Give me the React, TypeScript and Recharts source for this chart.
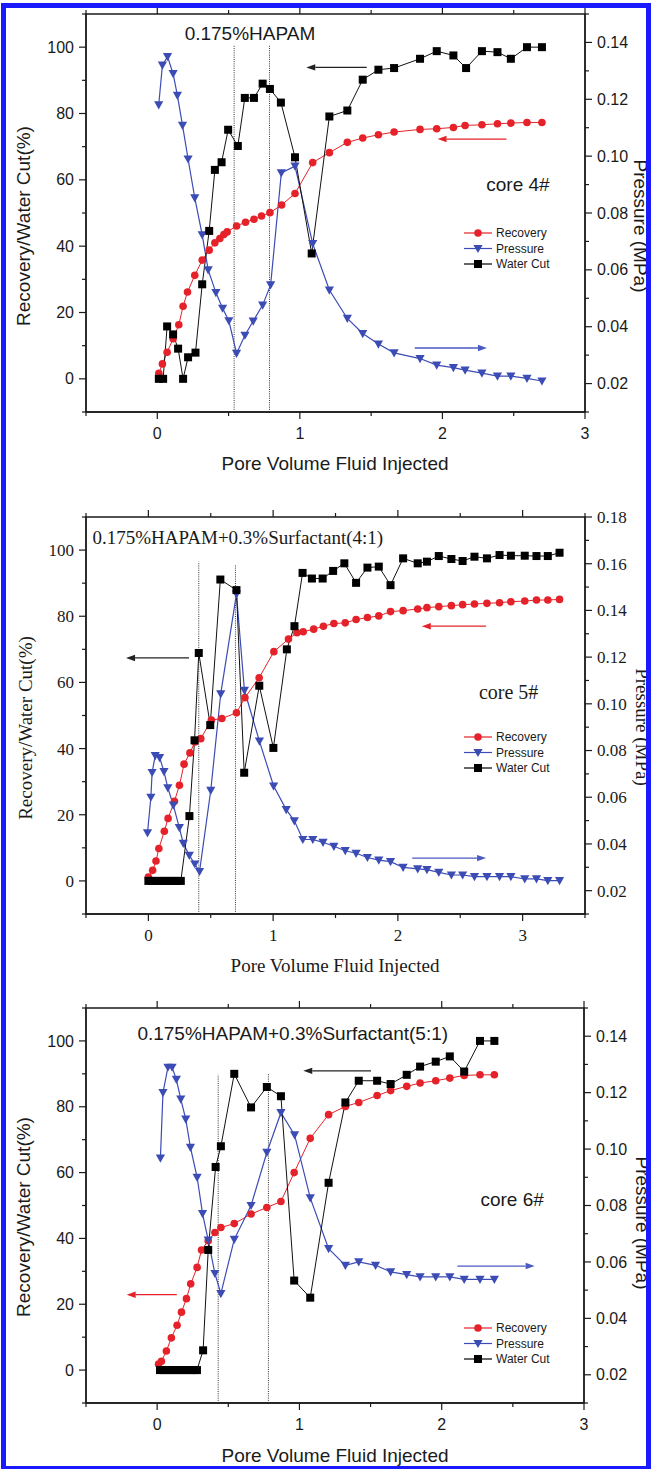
import React from 'react';
import {
  LineChart,
  Line,
  XAxis,
  YAxis,
  ReferenceLine,
  ReferenceDot,
  ReferenceArea,
  Legend,
} from 'recharts';

const SANS = '"Liberation Sans", Arial, Helvetica, sans-serif';
const SERIF = '"Liberation Serif", "Times New Roman", Times, serif';
const RED = '#e52229';
const BLUE = '#3c4cb5';
const INK = '#1a1a1a';

// ---------- shared tick values ----------
const leftTicks = [-10, 0, 10, 20, 30, 40, 50, 60, 70, 80, 90, 100, 110];
const xTicks3 = [-0.5, 0, 0.5, 1, 1.5, 2, 2.5, 3];
const xTicks35 = [-0.5, 0, 0.5, 1, 1.5, 2, 2.5, 3, 3.5];
const pTicks15 = [0.01, 0.02, 0.03, 0.04, 0.05, 0.06, 0.07, 0.08, 0.09, 0.1, 0.11, 0.12, 0.13, 0.14, 0.15];
const pTicks18 = [0.01, 0.02, 0.03, 0.04, 0.05, 0.06, 0.07, 0.08, 0.09, 0.1, 0.11, 0.12, 0.13, 0.14, 0.15, 0.16, 0.17, 0.18];

// ---------- core 4# ----------
const core4RecoveryX = [0.011, 0.036, 0.069, 0.111, 0.151, 0.181, 0.212, 0.263, 0.315, 0.364, 0.404, 0.439, 0.467, 0.49, 0.556, 0.619, 0.678, 0.731, 0.79, 0.872, 0.966, 1.09, 1.207, 1.333, 1.441, 1.551, 1.661, 1.843, 1.96, 2.077, 2.159, 2.277, 2.386, 2.48, 2.593, 2.698];
const core4RecoveryY = [1.7, 4.5, 8, 12.1, 16.3, 21.9, 26.2, 31.2, 35.8, 38.8, 41, 42.3, 43.5, 44.3, 46.1, 47.2, 48.1, 49.1, 50.1, 52.4, 55.9, 65.2, 68.2, 71.3, 72.6, 73.6, 74.4, 75.2, 75.4, 75.8, 76.4, 76.6, 76.9, 77.1, 77.3, 77.3];
const core4PressureX = [0.01, 0.036, 0.072, 0.111, 0.141, 0.177, 0.216, 0.263, 0.315, 0.357, 0.411, 0.458, 0.502, 0.556, 0.615, 0.673, 0.739, 0.795, 0.87, 0.966, 1.09, 1.207, 1.333, 1.441, 1.551, 1.661, 1.843, 1.96, 2.077, 2.159, 2.277, 2.386, 2.48, 2.593, 2.698];
const core4PressureY = [0.118, 0.132, 0.135, 0.129, 0.1214, 0.1108, 0.099, 0.0853, 0.0723, 0.06, 0.052, 0.0465, 0.0421, 0.0306, 0.037, 0.042, 0.0476, 0.0547, 0.0941, 0.0965, 0.0692, 0.0529, 0.0429, 0.0376, 0.0339, 0.0308, 0.0288, 0.0265, 0.0256, 0.0247, 0.0237, 0.0226, 0.0226, 0.0218, 0.0209];
const core4WaterX = [0.011, 0.041, 0.069, 0.111, 0.146, 0.181, 0.216, 0.268, 0.315, 0.364, 0.404, 0.451, 0.497, 0.565, 0.614, 0.678, 0.739, 0.79, 0.867, 0.966, 1.083, 1.207, 1.333, 1.441, 1.551, 1.661, 1.843, 1.96, 2.077, 2.166, 2.277, 2.386, 2.48, 2.593, 2.698];
const core4WaterY = [0, 0, 15.8, 13.4, 9.1, 0, 6.5, 7.9, 28.5, 44.6, 63, 65.3, 75.1, 70.2, 84.7, 84.7, 89, 87.4, 83.3, 66.8, 37.8, 79.1, 80.9, 90.2, 93.2, 93.7, 96.5, 98.8, 97.5, 93.7, 98.8, 98.5, 96.5, 100, 100];

// ---------- core 5# ----------
const core5RecoveryX = [0, 0.034, 0.061, 0.084, 0.128, 0.158, 0.209, 0.249, 0.286, 0.333, 0.373, 0.42, 0.505, 0.589, 0.706, 0.774, 0.888, 1.006, 1.123, 1.191, 1.241, 1.325, 1.403, 1.487, 1.578, 1.665, 1.756, 1.847, 1.941, 2.042, 2.159, 2.233, 2.328, 2.429, 2.519, 2.614, 2.714, 2.815, 2.906, 3.017, 3.111, 3.202, 3.296];
const core5RecoveryY = [1.2, 3.2, 6, 9.8, 15, 18.9, 24.1, 28.9, 35.3, 38.7, 42, 43, 48.6, 49.1, 50.8, 55.4, 61.4, 69.3, 73.1, 75, 75.3, 76.1, 77, 77.8, 78, 79, 79.6, 80.1, 81.4, 81.7, 82.2, 82.6, 82.9, 83.2, 83.5, 83.7, 83.9, 84.1, 84.4, 84.6, 84.9, 84.9, 85.1];
const core5PressureX = [-0.007, 0.02, 0.03, 0.055, 0.09, 0.125, 0.156, 0.2, 0.248, 0.28, 0.328, 0.372, 0.41, 0.5, 0.58, 0.706, 0.77, 0.89, 1.004, 1.105, 1.17, 1.238, 1.318, 1.4, 1.487, 1.578, 1.665, 1.756, 1.847, 1.941, 2.042, 2.159, 2.233, 2.328, 2.429, 2.519, 2.614, 2.714, 2.815, 2.906, 3.017, 3.111, 3.202, 3.296];
const core5PressureY = [0.0447, 0.06, 0.0706, 0.0778, 0.077, 0.071, 0.064, 0.0566, 0.047, 0.0402, 0.0351, 0.0314, 0.0282, 0.0629, 0.1043, 0.147, 0.1058, 0.084, 0.0648, 0.0547, 0.0499, 0.0419, 0.0419, 0.0407, 0.039, 0.0371, 0.036, 0.0342, 0.0331, 0.0324, 0.03, 0.0293, 0.029, 0.0278, 0.0267, 0.0267, 0.026, 0.026, 0.026, 0.026, 0.025, 0.025, 0.0243, 0.0243];
const core5WaterX = [0, 0.026, 0.052, 0.078, 0.104, 0.13, 0.156, 0.182, 0.208, 0.234, 0.26, 0.329, 0.37, 0.404, 0.496, 0.577, 0.706, 0.768, 0.889, 1.002, 1.11, 1.171, 1.236, 1.311, 1.397, 1.481, 1.571, 1.665, 1.756, 1.847, 1.941, 2.042, 2.159, 2.233, 2.328, 2.429, 2.519, 2.614, 2.714, 2.815, 2.906, 3.017, 3.111, 3.202, 3.296];
const core5WaterY = [0, 0, 0, 0, 0, 0, 0, 0, 0, 0, 0, 19.6, 42.5, 68.9, 47.1, 91.1, 87.9, 32.7, 59, 40.2, 70, 77, 93.1, 91.4, 91.4, 93.7, 96, 90.1, 94.7, 95, 89.4, 97.5, 96, 96.5, 98.2, 97.3, 96.7, 98, 97.5, 98.5, 98.3, 98.3, 98.2, 98.2, 99.2];

// ---------- core 6# ----------
const core6RecoveryX = [0.01, 0.03, 0.065, 0.1, 0.14, 0.171, 0.206, 0.236, 0.281, 0.312, 0.359, 0.406, 0.448, 0.542, 0.66, 0.771, 0.87, 0.963, 1.076, 1.205, 1.323, 1.417, 1.546, 1.641, 1.754, 1.848, 1.958, 2.057, 2.158, 2.269, 2.37];
const core6RecoveryY = [1.8, 2.7, 5.8, 9.8, 13.6, 17.6, 21.7, 26.2, 31.2, 36.5, 39.3, 41.8, 43.3, 44.5, 47.4, 49.4, 51.2, 60, 70.4, 77.6, 80.1, 81.3, 83.4, 84.9, 86.2, 87.2, 87.9, 88.7, 89.5, 89.7, 89.7];
const core6PressureX = [0.023, 0.041, 0.076, 0.105, 0.135, 0.166, 0.201, 0.234, 0.281, 0.319, 0.359, 0.406, 0.448, 0.542, 0.66, 0.771, 0.87, 0.966, 1.076, 1.205, 1.323, 1.417, 1.535, 1.641, 1.754, 1.848, 1.958, 2.057, 2.158, 2.269, 2.37];
const core6PressureY = [0.0968, 0.12, 0.129, 0.129, 0.1247, 0.1177, 0.1106, 0.1006, 0.09, 0.0771, 0.0677, 0.0559, 0.0488, 0.068, 0.08, 0.0988, 0.1129, 0.105, 0.0827, 0.0647, 0.0588, 0.06, 0.0588, 0.0565, 0.0555, 0.0547, 0.0547, 0.0547, 0.0538, 0.0538, 0.0538];
const core6WaterX = [0.02, 0.047, 0.074, 0.101, 0.128, 0.155, 0.182, 0.209, 0.236, 0.263, 0.28, 0.323, 0.359, 0.411, 0.448, 0.542, 0.66, 0.771, 0.87, 0.963, 1.076, 1.205, 1.323, 1.417, 1.546, 1.641, 1.754, 1.848, 1.958, 2.057, 2.158, 2.269, 2.37];
const core6WaterY = [0, 0, 0, 0, 0, 0, 0, 0, 0, 0, 0, 6, 36.5, 61.7, 68, 90, 79.8, 86, 83.2, 27.2, 22, 56.9, 81.3, 87.9, 87.9, 86.9, 89.7, 92.2, 93.7, 95.3, 90.7, 100, 100];

const zip = (xs: number[], ys: number[]) => xs.map((x, i) => ({ x, y: ys[i] }));

// ---------- markers ----------
const circleDot = (p: any) =>
  p.cx == null ? <g key={`c${p.index}`} /> : <circle key={`c${p.index}`} cx={p.cx} cy={p.cy} r={3.8} fill={RED} />;
const triDot = (p: any) =>
  p.cx == null ? (
    <g key={`t${p.index}`} />
  ) : (
    <polygon
      key={`t${p.index}`}
      points={`${p.cx - 4.6},${p.cy - 3.6} ${p.cx + 4.6},${p.cy - 3.6} ${p.cx},${p.cy + 4.6}`}
      fill={BLUE}
    />
  );
const sqDot = (p: any) =>
  p.cx == null ? <g key={`s${p.index}`} /> : <rect key={`s${p.index}`} x={p.cx - 4} y={p.cy - 4} width={8} height={8} fill="#000" />;

const MAJOR = 7;
const MINOR = 4;

// ---------- ticks ----------
const mkLeftTick = (font: string, size: number) => (props: any) => {
  const { x, y, payload } = props;
  const v = payload.value;
  const major = Math.round(v) % 20 === 0;
  return (
    <g>
      <line x1={x} x2={x - (major ? MAJOR : MINOR)} y1={y} y2={y} stroke={INK} strokeWidth={1.2} />
      {major && (
        <text x={x - 12} y={y} dy="0.35em" textAnchor="end" fontSize={size} fontFamily={font} fill={INK}>
          {v}
        </text>
      )}
    </g>
  );
};
const mkRightTick = (font: string, size: number) => (props: any) => {
  const { x, y, payload } = props;
  const v = payload.value;
  const major = Math.round(v * 100) % 2 === 0;
  return (
    <g>
      <line x1={x} x2={x + (major ? MAJOR : MINOR)} y1={y} y2={y} stroke={INK} strokeWidth={1.2} />
      {major && (
        <text x={x + 12} y={y} dy="0.35em" textAnchor="start" fontSize={size} fontFamily={font} fill={INK}>
          {v.toFixed(2)}
        </text>
      )}
    </g>
  );
};
const mkBottomTick = (font: string, size: number, plotH: number) => (props: any) => {
  const { x, y, payload } = props;
  const v = payload.value;
  const major = Math.abs(v - Math.round(v)) < 1e-6;
  const len = major ? MAJOR : MINOR;
  return (
    <g>
      <line x1={x} x2={x} y1={y} y2={y + len} stroke={INK} strokeWidth={1.2} />
      <line x1={x} x2={x} y1={y - plotH} y2={y - plotH - len} stroke={INK} strokeWidth={1.2} />
      {major && (
        <text x={x} y={y + 21} dy="0.35em" textAnchor="middle" fontSize={size} fontFamily={font} fill={INK}>
          {v}
        </text>
      )}
    </g>
  );
};

const arrowShape = (color: string) => (p: any) => {
  const { x1, y1, x2, y2 } = p;
  const ang = Math.atan2(y2 - y1, x2 - x1);
  const L = 9;
  const Wd = 3.2;
  const bx = x2 - L * Math.cos(ang);
  const by = y2 - L * Math.sin(ang);
  const px = -Math.sin(ang) * Wd;
  const py = Math.cos(ang) * Wd;
  return (
    <g>
      <line x1={x1} y1={y1} x2={bx} y2={by} stroke={color} strokeWidth={1.3} />
      <polygon points={`${x2},${y2} ${bx + px},${by + py} ${bx - px},${by - py}`} fill={color} />
    </g>
  );
};

const LegendBox = () => {
  const rows = [
    { label: 'Recovery', color: RED, kind: 'c' },
    { label: 'Pressure', color: BLUE, kind: 't' },
    { label: 'Water Cut', color: '#000', kind: 's' },
  ];
  return (
    <svg width={100} height={48} style={{ display: 'block' }}>
      {rows.map((r, i) => {
        const cy = 8 + i * 15.5;
        return (
          <g key={r.label}>
            <line x1={1} x2={29} y1={cy} y2={cy} stroke={r.color} strokeWidth={1.2} />
            {r.kind === 'c' && <circle cx={15} cy={cy} r={3.8} fill={RED} />}
            {r.kind === 't' && (
              <polygon points={`${15 - 4.6},${cy - 3.6} ${15 + 4.6},${cy - 3.6} 15,${cy + 4.6}`} fill={BLUE} />
            )}
            {r.kind === 's' && <rect x={11} y={cy - 4} width={8} height={8} fill="#000" />}
            <text x={33} y={cy} dy="0.35em" fontSize={12} fontFamily={SANS} fill={INK}>
              {r.label}
            </text>
          </g>
        );
      })}
    </svg>
  );
};

type Txt = { x: number; y: number; text: string; size: number };
type Arrow = { x1: number; x2: number; y: number; color: string };
type Cfg = {
  top: number;
  height: number;
  marginTop: number;
  plotH: number;
  xAxisH: number;
  rightW: number;
  xDomain: [number, number];
  xTicks: number[];
  pDomain: [number, number];
  pTicks: number[];
  font: string;
  tickSize: number;
  recovery: { x: number; y: number }[];
  pressure: { x: number; y: number }[];
  water: { x: number; y: number }[];
  vlines: { x: number; top: number }[];
  arrows: Arrow[];
  texts: Txt[];
  legendTop: number;
  leftTitle: [number, number];
  rightTitle: [number, number];
  xTitle: [number, number];
};

const Panel = ({ cfg }: { cfg: Cfg }) => {
  const W = 652;
  const titleProps = { fontSize: 19, fontFamily: cfg.font, fill: INK, textAnchor: 'middle' as const };
  return (
    <div style={{ position: 'absolute', left: 0, top: cfg.top, width: W, height: cfg.height }}>
      <LineChart width={W} height={cfg.height} margin={{ top: cfg.marginTop, right: 0, bottom: 0, left: 0 }}>
        <XAxis
          xAxisId="x"
          type="number"
          dataKey="x"
          domain={cfg.xDomain}
          ticks={cfg.xTicks}
          interval={0}
          allowDataOverflow
          height={cfg.xAxisH}
          tickSize={0}
          tickMargin={0}
          tickLine={false}
          axisLine={{ stroke: INK, strokeWidth: 1.4 }}
          tick={mkBottomTick(cfg.font, cfg.tickSize, cfg.plotH)}
          label={() => (
            <text x={cfg.xTitle[0]} y={cfg.xTitle[1]} dy="0.35em" {...titleProps}>
              Pore Volume Fluid Injected
            </text>
          )}
        />
        <YAxis
          yAxisId="L"
          orientation="left"
          type="number"
          domain={[-10, 110]}
          ticks={leftTicks}
          interval={0}
          allowDataOverflow
          width={86}
          tickSize={0}
          tickMargin={0}
          tickLine={false}
          axisLine={{ stroke: INK, strokeWidth: 1.4 }}
          tick={mkLeftTick(cfg.font, cfg.tickSize)}
          label={() => (
            <text
              x={cfg.leftTitle[0]}
              y={cfg.leftTitle[1]}
              dy="0.35em"
              transform={`rotate(-90 ${cfg.leftTitle[0]} ${cfg.leftTitle[1]})`}
              {...titleProps}
            >
              Recovery/Water Cut(%)
            </text>
          )}
        />
        <YAxis
          yAxisId="R"
          orientation="right"
          type="number"
          domain={cfg.pDomain}
          ticks={cfg.pTicks}
          interval={0}
          allowDataOverflow
          width={cfg.rightW}
          tickSize={0}
          tickMargin={0}
          tickLine={false}
          axisLine={{ stroke: INK, strokeWidth: 1.4 }}
          tick={mkRightTick(cfg.font, cfg.tickSize)}
          label={() => (
            <text
              x={cfg.rightTitle[0]}
              y={cfg.rightTitle[1]}
              dy="0.35em"
              transform={`rotate(90 ${cfg.rightTitle[0]} ${cfg.rightTitle[1]})`}
              {...titleProps}
            >
              Pressure (MPa)
            </text>
          )}
        />
        <ReferenceArea
          xAxisId="x"
          yAxisId="L"
          x1={cfg.xDomain[0]}
          x2={cfg.xDomain[1]}
          y1={-10}
          y2={110}
          fill="none"
          fillOpacity={0}
          stroke={INK}
          strokeWidth={1.4}
        />
        {cfg.vlines.map((v, i) => (
          <ReferenceLine
            key={`v${i}`}
            xAxisId="x"
            yAxisId="L"
            segment={[
              { x: v.x, y: -10 },
              { x: v.x, y: v.top },
            ]}
            stroke="#333"
            strokeWidth={1}
            strokeDasharray="1 1.2"
          />
        ))}
        {cfg.arrows.map((a, i) => (
          <ReferenceLine
            key={`a${i}`}
            xAxisId="x"
            yAxisId="L"
            segment={[
              { x: a.x1, y: a.y },
              { x: a.x2, y: a.y },
            ]}
            shape={arrowShape(a.color)}
          />
        ))}
        <Line
          xAxisId="x"
          yAxisId="L"
          data={cfg.recovery}
          dataKey="y"
          name="Recovery"
          stroke={RED}
          strokeWidth={1}
          dot={circleDot}
          activeDot={false}
          isAnimationActive={false}
        />
        <Line
          xAxisId="x"
          yAxisId="R"
          data={cfg.pressure}
          dataKey="y"
          name="Pressure"
          stroke={BLUE}
          strokeWidth={1.2}
          dot={triDot}
          activeDot={false}
          isAnimationActive={false}
        />
        <Line
          xAxisId="x"
          yAxisId="L"
          data={cfg.water}
          dataKey="y"
          name="Water Cut"
          stroke="#111"
          strokeWidth={1}
          dot={sqDot}
          activeDot={false}
          isAnimationActive={false}
        />
        {cfg.texts.map((t, i) => (
          <ReferenceDot
            key={`t${i}`}
            xAxisId="x"
            yAxisId="L"
            x={t.x}
            y={t.y}
            r={1}
            shape={(p: any) => (
              <text
                x={p.cx}
                y={p.cy}
                dy="0.35em"
                textAnchor="middle"
                fontSize={t.size}
                fontFamily={cfg.font}
                fill={INK}
              >
                {t.text}
              </text>
            )}
          />
        ))}
        <Legend
          layout="vertical"
          align="center"
          verticalAlign="middle"
          content={() => <LegendBox />}
          wrapperStyle={{ left: 463, top: cfg.legendTop, width: 100, height: 48, right: 'auto', bottom: 'auto' }}
        />
      </LineChart>
    </div>
  );
};

const panels: Cfg[] = [
  {
    top: 0,
    height: 480,
    marginTop: 14,
    plotH: 398,
    xAxisH: 68,
    rightW: 67,
    xDomain: [-0.5, 3],
    xTicks: xTicks3,
    pDomain: [0.01, 0.15],
    pTicks: pTicks15,
    font: SANS,
    tickSize: 16,
    recovery: zip(core4RecoveryX, core4RecoveryY),
    pressure: zip(core4PressureX, core4PressureY),
    water: zip(core4WaterX, core4WaterY),
    vlines: [
      { x: 0.539, top: 100.5 },
      { x: 0.787, top: 100.5 },
    ],
    arrows: [
      { x1: 1.469, x2: 1.045, y: 93.9, color: '#222' },
      { x1: 2.449, x2: 1.966, y: 72.3, color: RED },
      { x1: 1.806, x2: 2.312, y: 9.3, color: '#4a5ac0' },
    ],
    texts: [
      { x: 0.65, y: 104.3, text: '0.175%HAPAM', size: 19 },
      { x: 2.53, y: 58.5, text: 'core 4#', size: 19 },
    ],
    legendTop: 225,
    leftTitle: [23, 226],
    rightTitle: [641, 226],
    xTitle: [335, 463],
  },
  {
    top: 490,
    height: 490,
    marginTop: 27,
    plotH: 397,
    xAxisH: 66,
    rightW: 67,
    xDomain: [-0.5, 3.5],
    xTicks: xTicks35,
    pDomain: [0.01, 0.18],
    pTicks: pTicks18,
    font: SERIF,
    tickSize: 17,
    recovery: zip(core5RecoveryX, core5RecoveryY),
    pressure: zip(core5PressureX, core5PressureY),
    water: zip(core5WaterX, core5WaterY),
    vlines: [
      { x: 0.404, top: 96.5 },
      { x: 0.698, top: 95.5 },
    ],
    arrows: [
      { x1: 0.326, x2: -0.179, y: 67.4, color: '#222' },
      { x1: 2.707, x2: 2.192, y: 77, color: RED },
      { x1: 2.115, x2: 2.707, y: 6.9, color: '#4a5ac0' },
    ],
    texts: [
      { x: 0.717, y: 104, text: '0.175%HAPAM+0.3%Surfactant(4:1)', size: 19 },
      { x: 2.888, y: 57.2, text: 'core 5#', size: 20 },
    ],
    legendTop: 239,
    leftTitle: [25, 238],
    rightTitle: [643, 237],
    xTitle: [335, 475],
  },
  {
    top: 985,
    height: 484,
    marginTop: 23,
    plotH: 395,
    xAxisH: 66,
    rightW: 68,
    xDomain: [-0.5, 3],
    xTicks: xTicks3,
    pDomain: [0.01, 0.15],
    pTicks: pTicks15,
    font: SANS,
    tickSize: 16,
    recovery: zip(core6RecoveryX, core6RecoveryY),
    pressure: zip(core6PressureX, core6PressureY),
    water: zip(core6WaterX, core6WaterY),
    vlines: [
      { x: 0.429, top: 89.7 },
      { x: 0.782, top: 90.2 },
    ],
    arrows: [
      { x1: 1.503, x2: 1.027, y: 90.9, color: '#222' },
      { x1: 0.138, x2: -0.214, y: 22.9, color: RED },
      { x1: 2.11, x2: 2.653, y: 31.6, color: '#4a5ac0' },
    ],
    texts: [
      { x: 0.953, y: 102.3, text: '0.175%HAPAM+0.3%Surfactant(5:1)', size: 19 },
      { x: 2.495, y: 51.9, text: 'core 6#', size: 19 },
    ],
    legendTop: 335,
    leftTitle: [23, 232],
    rightTitle: [643, 238],
    xTitle: [335, 470],
  },
];

const FRAME = '#1a1aff';

export default function App() {
  return (
    <div style={{ position: 'absolute', left: 0, top: 0, width: 652, height: 1469, background: '#fff', overflow: 'hidden' }}>
      {panels.map((c, i) => (
        <Panel key={i} cfg={c} />
      ))}
      <div style={{ position: 'absolute', left: 1, top: 3, width: 5, height: 1466, background: FRAME }} />
      <div style={{ position: 'absolute', left: 646, top: 3, width: 5, height: 1466, background: FRAME }} />
      <div style={{ position: 'absolute', left: 1, top: 3, width: 650, height: 5, background: FRAME }} />
      <div style={{ position: 'absolute', left: 1, top: 1466, width: 650, height: 3, background: FRAME }} />
    </div>
  );
}
